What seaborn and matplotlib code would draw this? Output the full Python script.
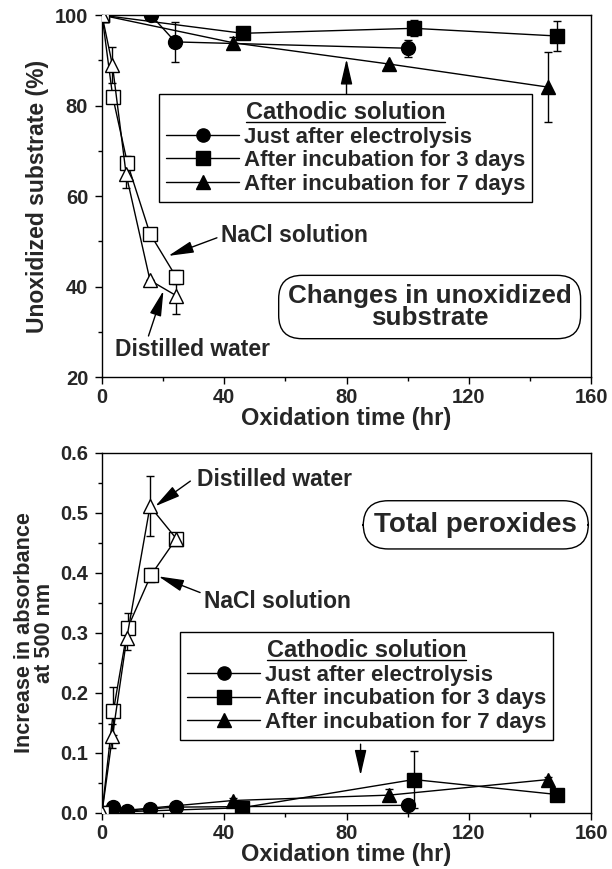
import matplotlib
matplotlib.use("Agg")
import matplotlib.pyplot as plt
from matplotlib.ticker import MultipleLocator
from matplotlib.lines import Line2D
import seaborn as sns

# --- top panel: unoxidized substrate (%) ---
t_just_top = [0, 16, 24, 100]
y_just_top = [100, 100, 94.1, 92.7]
e_just_top = [0, 0, 4.5, 1.9]

t_3d_top = [0, 46, 102, 149]
y_3d_top = [100, 96.0, 97.1, 95.4]
e_3d_top = [0, 0, 1.8, 3.3]

t_7d_top = [0, 43, 94, 146]
y_7d_top = [100, 93.9, 89.2, 84.1]
e_7d_top = [0, 1.2, 0, 7.7]

t_nacl_top = [0, 3.5, 8.3, 15.7, 24.3]
y_nacl_top = [100, 82.0, 67.3, 51.7, 42.1]
e_nacl_top = [0, 0, 1.5, 0, 1.5]

t_water_top = [0, 3.4, 7.9, 15.7, 24.3]
y_water_top = [100, 89.0, 64.8, 41.4, 38.0]
e_water_top = [0, 4.0, 3.0, 0, 4.0]

# --- bottom panel: total peroxides (absorbance at 500 nm) ---
t_just_bot = [0, 3.7, 8.3, 15.7, 24.1, 100.2]
y_just_bot = [0, 0.009, 0.002, 0.006, 0.009, 0.012]
e_just_bot = [0, 0, 0, 0, 0, 0]

t_3d_bot = [0, 45.8, 102, 149]
y_3d_bot = [0, 0.008, 0.055, 0.030]
e_3d_bot = [0, 0, 0.047, 0.010]

t_7d_bot = [0, 42.7, 93.9, 146]
y_7d_bot = [0, 0.020, 0.029, 0.055]
e_7d_bot = [0, 0.005, 0.010, 0.005]

t_nacl_bot = [0, 3.7, 8.4, 16, 24.3]
y_nacl_bot = [0, 0.169, 0.308, 0.396, 0.457]
e_nacl_bot = [0, 0.040, 0.025, 0.012, 0.005]

t_water_bot = [0, 3.4, 8.1, 15.7, 24.3]
y_water_bot = [0, 0.127, 0.291, 0.511, 0.457]
e_water_bot = [0, 0.020, 0.020, 0.050, 0.005]

legend_labels = ["Just after electrolysis", "After incubation for 3 days",
                 "After incubation for 7 days"]

sns.set_theme(style="ticks")
plt.rcParams['font.family'] = ['Liberation Sans', 'DejaVu Sans']
plt.rcParams['font.weight'] = 'bold'
plt.rcParams['axes.labelweight'] = 'bold'
TICK = 14.5
LEG = 16
ANN = 16.5
XLAB = 17

fig = plt.figure(figsize=(6.12, 8.69), dpi=100)
ax1 = fig.add_axes([0.1667, 0.566, 0.799, 0.4165])
ax2 = fig.add_axes([0.1667, 0.0650, 0.799, 0.4138])


def draw_series(ax, t, y, e, marker, filled, ms):
    ax.errorbar(t, y, yerr=e, fmt='none', ecolor='black', elinewidth=1,
                capsize=3, capthick=1, zorder=2)
    sns.lineplot(x=t, y=y, ax=ax, color='black', lw=1, marker=marker,
                 markersize=ms, markerfacecolor='black' if filled else 'white',
                 markeredgecolor='black', markeredgewidth=1, zorder=3,
                 estimator=None, sort=False)


def style_axes(ax, ylim, ymajor, yminor, yfmt):
    ax.set_xlim(0, 160)
    ax.set_ylim(*ylim)
    ax.xaxis.set_major_locator(MultipleLocator(40))
    ax.xaxis.set_minor_locator(MultipleLocator(20))
    ax.yaxis.set_major_locator(MultipleLocator(ymajor))
    ax.yaxis.set_minor_locator(MultipleLocator(yminor))
    ax.yaxis.set_major_formatter(yfmt)
    ax.tick_params(which='both', direction='out', color='black', width=1,
                   labelsize=TICK)
    ax.tick_params(axis='x', which='both', pad=3)
    ax.tick_params(axis='y', which='both', pad=5)
    ax.tick_params(which='major', length=5)
    ax.tick_params(which='minor', length=3)
    for s in ax.spines.values():
        s.set_visible(True)
        s.set_color('black')
        s.set_linewidth(1)
    for lab in ax.get_xticklabels() + ax.get_yticklabels():
        lab.set_fontweight('bold')
    ax.set_xlabel("Oxidation time (hr)", fontsize=XLAB, fontweight='bold', labelpad=0)


def add_legend(ax, anchor):
    handles = [Line2D([], [], color='black', lw=1, marker=m, markersize=9.5,
                      markerfacecolor='black', markeredgecolor='black')
               for m in ['o', 's', '^']]
    leg = ax.legend(handles, legend_labels, loc='upper left', bbox_to_anchor=anchor,
                    borderaxespad=0, frameon=True, fancybox=False, edgecolor='black',
                    framealpha=1, handlelength=3.3, handletextpad=0.2,
                    labelspacing=0.12, borderpad=0.3, title="Cathodic solution",
                    prop={'size': LEG, 'weight': 'bold'},
                    title_fontproperties={'size': 17, 'weight': 'bold'})
    leg.get_frame().set_linewidth(1)
    leg._legend_box.sep = 2
    return leg


# top panel
draw_series(ax1, t_just_top, y_just_top, e_just_top, 'o', True, 10)
draw_series(ax1, t_3d_top, y_3d_top, e_3d_top, 's', True, 10)
draw_series(ax1, t_7d_top, y_7d_top, e_7d_top, '^', True, 10)
draw_series(ax1, t_nacl_top, y_nacl_top, e_nacl_top, 's', False, 10)
draw_series(ax1, t_water_top, y_water_top, e_water_top, '^', False, 10)
style_axes(ax1, (20, 100), 20, 10, '{x:.0f}')
ax1.set_ylabel("Unoxidized substrate (%)", fontsize=16.5, fontweight='bold', labelpad=4)
leg1 = add_legend(ax1, (0.117, 0.782))

arrow = dict(arrowstyle='-|>,head_length=1.3,head_width=0.3', lw=1, color='black',
             shrinkA=0, shrinkB=0)
ax1.annotate('', xy=(80, 90.3), xytext=(80, 82.6), arrowprops=arrow)
ax1.text(62.8, 51.4, "NaCl solution", ha='center', va='center', fontsize=ANN, fontweight='bold')
ax1.annotate('', xy=(21.7, 46.8), xytext=(37.6, 50.8), arrowprops=arrow)
ax1.text(29.7, 26.2, "Distilled water", ha='center', va='center', fontsize=ANN, fontweight='bold')
ax1.annotate('', xy=(20.1, 39.1), xytext=(15.2, 29.1), arrowprops=arrow)
ax1.text(107.2, 35.5, "Changes in unoxidized\nsubstrate", ha='center', va='center',
         fontsize=18.7, fontweight='bold', linespacing=0.85,
         bbox=dict(boxstyle='round,pad=0.35,rounding_size=0.9', fc='white', ec='black', lw=1))

# bottom panel
draw_series(ax2, t_just_bot, y_just_bot, e_just_bot, 'o', True, 10)
draw_series(ax2, t_3d_bot, y_3d_bot, e_3d_bot, 's', True, 10)
draw_series(ax2, t_7d_bot, y_7d_bot, e_7d_bot, '^', True, 10)
draw_series(ax2, t_nacl_bot, y_nacl_bot, e_nacl_bot, 's', False, 10)
draw_series(ax2, t_water_bot, y_water_bot, e_water_bot, '^', False, 10)
style_axes(ax2, (0, 0.6), 0.1, 0.05, '{x:.1f}')
ax2.set_ylabel("Increase in absorbance\nat 500 nm", fontsize=15.6, fontweight='bold',
               labelpad=4, linespacing=0.9)
leg2 = add_legend(ax2, (0.16, 0.501))

ax2.annotate('', xy=(84.6, 0.062), xytext=(84.6, 0.114), arrowprops=arrow)
ax2.text(56.4, 0.555, "Distilled water", ha='center', va='center', fontsize=ANN, fontweight='bold')
ax2.annotate('', xy=(17.4, 0.511), xytext=(28.9, 0.553), arrowprops=arrow)
ax2.text(57.5, 0.352, "NaCl solution", ha='center', va='center', fontsize=ANN, fontweight='bold')
ax2.annotate('', xy=(18.5, 0.394), xytext=(32.1, 0.367), arrowprops=arrow)
ax2.text(122.3, 0.480, "Total peroxides", ha='center', va='center',
         fontsize=20, fontweight='bold',
         bbox=dict(boxstyle='round,pad=0.4,rounding_size=0.9', fc='white', ec='black', lw=1))

# underline the legend titles
fig.canvas.draw()
renderer = fig.canvas.get_renderer()
for leg in (leg1, leg2):
    bb = leg.get_title().get_window_extent(renderer)
    x0, x1 = bb.x0 / fig.bbox.width, bb.x1 / fig.bbox.width
    yy = (bb.y0 + 2) / fig.bbox.height
    fig.add_artist(Line2D([x0, x1], [yy, yy], color='black', lw=1))

fig.savefig("out.png", dpi=100)
